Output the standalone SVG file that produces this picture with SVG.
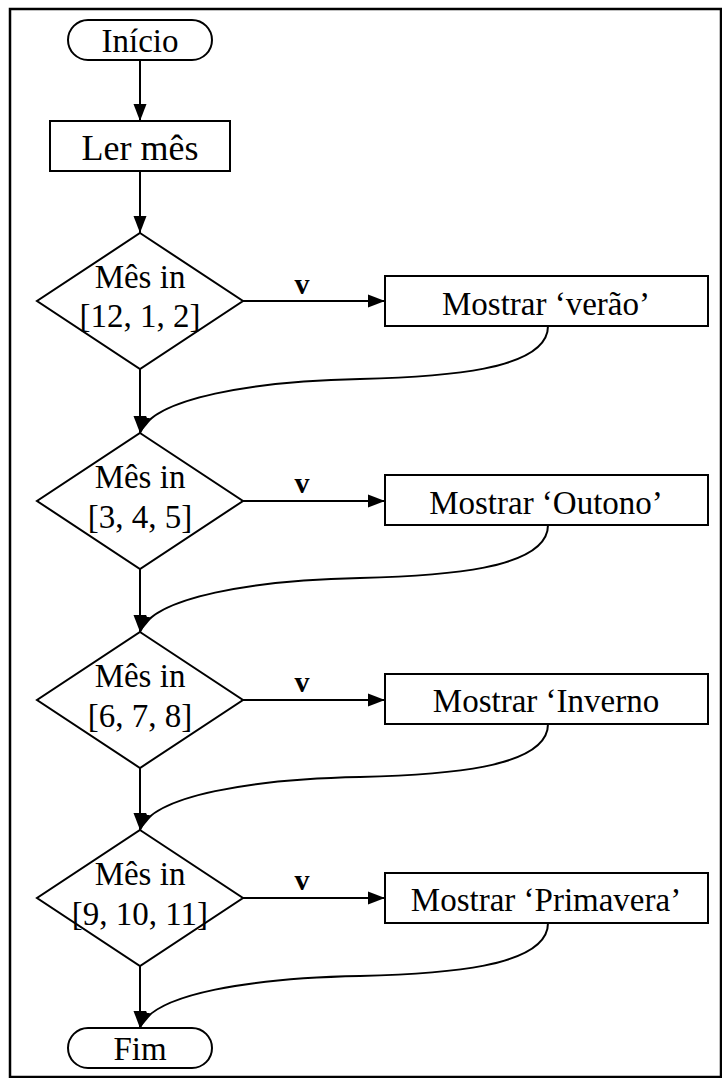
<svg xmlns="http://www.w3.org/2000/svg" width="722" height="1078" viewBox="0 0 722 1078">
  <style>
    .shape { fill: #fff; stroke: #000; stroke-width: 2; }
    .line { fill: none; stroke: #000; stroke-width: 2; }
    .txt { font-family: "Liberation Serif", "Times New Roman", serif; font-size: 33px; fill: #000; text-anchor: middle; }
    .big { font-size: 36px; }
    .lbl { font-family: "Liberation Serif", "Times New Roman", serif; font-size: 30px; font-weight: bold; fill: #000; text-anchor: middle; }
  </style>
  <defs>
    <marker id="arrow" markerUnits="userSpaceOnUse" markerWidth="18" markerHeight="15" refX="17" refY="7" orient="auto">
      <path d="M0,0.5 L17,7 L0,13.5 z" fill="#000"/>
    </marker>
  </defs>

  <rect width="722" height="1078" fill="#fff"/>
  <!-- page frame -->
  <rect x="10" y="9" width="711" height="1068" fill="none" stroke="#000" stroke-width="2.5"/>

  <!-- connectors -->
  <g id="connectors" class="line" marker-end="url(#arrow)">
    <line x1="140" y1="60" x2="140" y2="121"/>
    <line x1="140" y1="171" x2="140" y2="233"/>
    <line x1="140" y1="369" x2="140" y2="433"/>
    <line x1="140" y1="569" x2="140" y2="632"/>
    <line x1="140" y1="768" x2="140" y2="830"/>
    <line x1="140" y1="966" x2="140" y2="1028"/>

    <line x1="243" y1="301" x2="385" y2="301"/>
    <line x1="243" y1="501" x2="385" y2="501"/>
    <line x1="243" y1="700" x2="385" y2="700"/>
    <line x1="243" y1="898" x2="385" y2="898"/>

    <path d="M548,326 C548,371 440,377 360,379 C255,381 152,398 140,433"/>
    <path d="M548,525 C548,570 440,576 360,578 C255,580 152,597 140,632"/>
    <path d="M548,724 C548,769 440,775 360,777 C255,779 152,795 140,830"/>
    <path d="M548,923 C548,968 440,974 360,976 C255,978 152,993 140,1028"/>
  </g>
  <g id="edge-labels">
    <text class="lbl" x="302" y="294">v</text>
    <text class="lbl" x="302" y="493">v</text>
    <text class="lbl" x="302" y="692">v</text>
    <text class="lbl" x="302" y="890">v</text>
  </g>

  <g id="inicio">
    <rect class="shape" x="68" y="20" width="144" height="40" rx="20"/>
    <text class="txt" x="140" y="52">Início</text>
  </g>

  <g id="ler-mes">
    <rect class="shape" x="50" y="121" width="180" height="50"/>
    <text class="txt big" x="140" y="160">Ler mês</text>
  </g>

  <g id="cond-verao">
    <polygon class="shape" points="140,233 243,301 140,369 37,301"/>
    <text class="txt" x="140" y="288">Mês in</text>
    <text class="txt" x="140" y="327">[12, 1, 2]</text>
  </g>
  <g id="mostrar-verao">
    <rect class="shape" x="385" y="276" width="323" height="50"/>
    <text class="txt" x="546" y="315">Mostrar ‘verão’</text>
  </g>

  <g id="cond-outono">
    <polygon class="shape" points="140,433 243,501 140,569 37,501"/>
    <text class="txt" x="140" y="488">Mês in</text>
    <text class="txt" x="140" y="528">[3, 4, 5]</text>
  </g>
  <g id="mostrar-outono">
    <rect class="shape" x="385" y="475" width="323" height="50"/>
    <text class="txt" x="546" y="514">Mostrar ‘Outono’</text>
  </g>

  <g id="cond-inverno">
    <polygon class="shape" points="140,632 243,700 140,768 37,700"/>
    <text class="txt" x="140" y="687">Mês in</text>
    <text class="txt" x="140" y="727">[6, 7, 8]</text>
  </g>
  <g id="mostrar-inverno">
    <rect class="shape" x="385" y="674" width="323" height="50"/>
    <text class="txt" x="546" y="712">Mostrar ‘Inverno</text>
  </g>

  <g id="cond-primavera">
    <polygon class="shape" points="140,830 243,898 140,966 37,898"/>
    <text class="txt" x="140" y="885">Mês in</text>
    <text class="txt" x="140" y="925">[9, 10, 11]</text>
  </g>
  <g id="mostrar-primavera">
    <rect class="shape" x="385" y="873" width="323" height="50"/>
    <text class="txt" x="546" y="911">Mostrar ‘Primavera’</text>
  </g>

  <g id="fim">
    <rect class="shape" x="68" y="1028" width="144" height="40" rx="20"/>
    <text class="txt" x="140" y="1060">Fim</text>
  </g>
</svg>
